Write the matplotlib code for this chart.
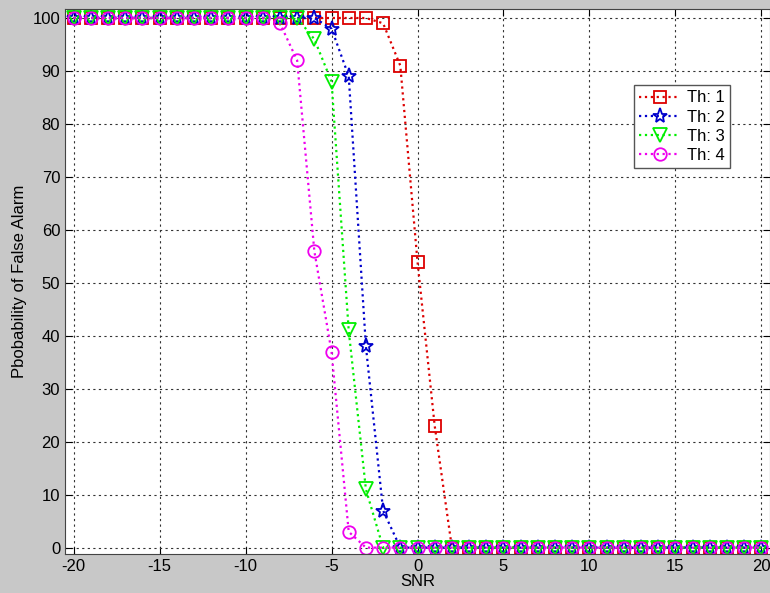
import numpy as np
import matplotlib.pyplot as plt

# SNR points and false alarm probability (%) for each threshold
snr = np.arange(-20, 21)

th1_drop = [99, 91, 54, 23]          # SNR -2 .. 1
th2_drop = [98, 89, 38, 7]           # SNR -5 .. -2
th3_drop = [96, 88, 41, 11]          # SNR -6 .. -3
th4_drop = [99, 92, 56, 37, 3]       # SNR -8 .. -4

def build(start, drop):
    vals = []
    for s in snr:
        if s < start:
            vals.append(100)
        elif s < start + len(drop):
            vals.append(drop[s - start])
        else:
            vals.append(0)
    return np.array(vals)

th1 = build(-2, th1_drop)
th2 = build(-5, th2_drop)
th3 = build(-6, th3_drop)
th4 = build(-8, th4_drop)

labels = ['Th: 1', 'Th: 2', 'Th: 3', 'Th: 4']
series = [th1, th2, th3, th4]
colors = ['#DD0000', '#0000CC', '#00EE00', '#EE00EE']
markers = ['s', '*', 'v', 'o']
msizes = [9, 11, 10, 9]

plt.rcParams['font.family'] = ['Liberation Sans', 'DejaVu Sans']
plt.rcParams['axes.unicode_minus'] = False

fig = plt.figure(figsize=(7.7, 5.93), dpi=100, facecolor='#C8C8C8')
ax = fig.add_axes([65 / 770, 39 / 593, 705 / 770, 545 / 593])

for y, lab, c, m, ms in zip(series, labels, colors, markers, msizes):
    ax.plot(snr, y, linestyle=':', color=c, linewidth=1.6, marker=m,
            markersize=ms, markerfacecolor='none', markeredgecolor=c,
            markeredgewidth=1.3, label=lab)

ax.set_xlim(-20.5, 20.5)
ax.set_ylim(-1.2, 101.7)
ax.set_xticks(np.arange(-20, 21, 5))
ax.set_yticks(np.arange(0, 101, 10))
ax.tick_params(direction='in', top=True, right=True, labelsize=12, length=5)
ax.grid(True, linestyle=(0, (2, 3)), color='#333333', linewidth=0.8)
for sp in ax.spines.values():
    sp.set_color('#444444')
ax.set_xlabel('SNR', fontsize=12, labelpad=0)
ax.set_ylabel('Pbobability of False Alarm', fontsize=12)

leg = ax.legend(loc='upper right', bbox_to_anchor=(0.955, 0.875), fontsize=12,
                fancybox=False, edgecolor='#555555', framealpha=1,
                handlelength=2.5, borderpad=0.3, labelspacing=0.25,
                handletextpad=0.4)
leg.get_frame().set_linewidth(1)

fig.savefig('out.png', dpi=100, facecolor=fig.get_facecolor())
